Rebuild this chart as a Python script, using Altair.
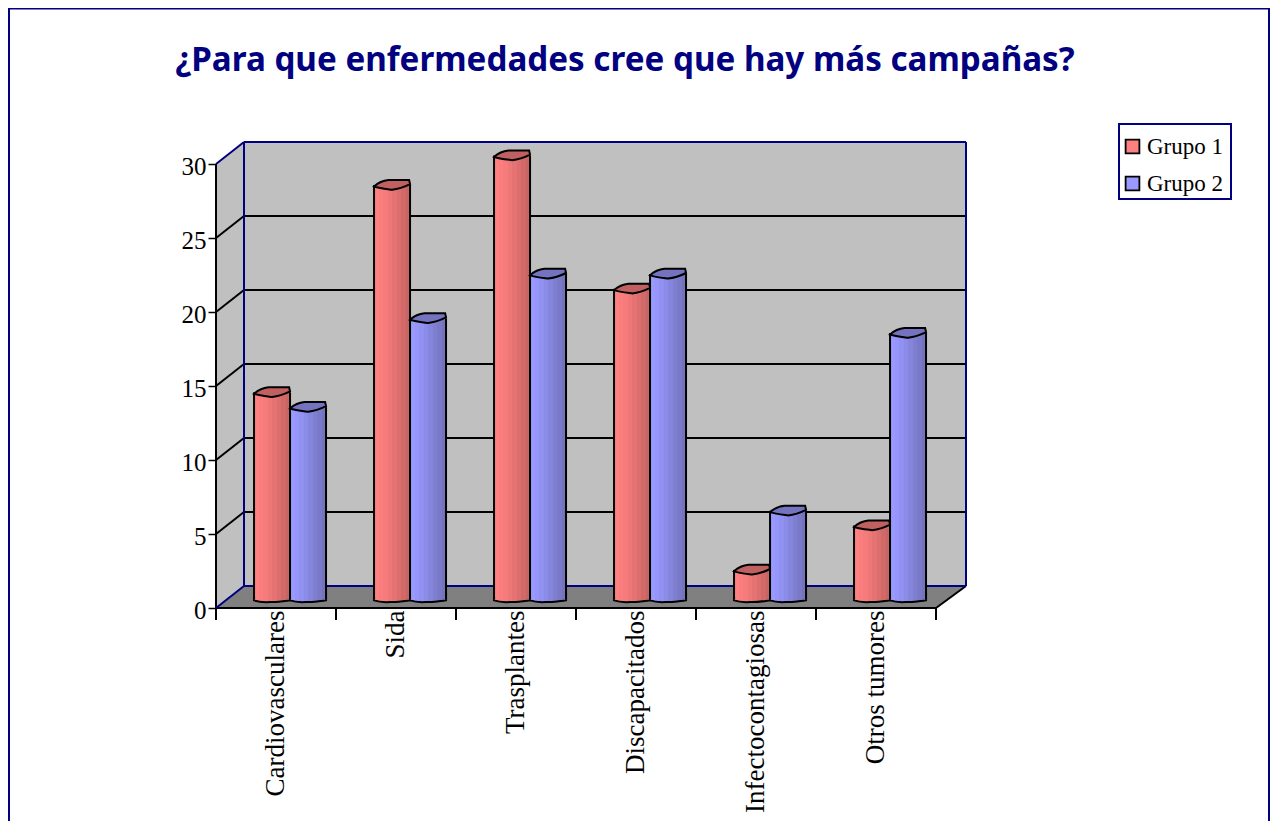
import altair as alt
import pandas as pd

categories = ["Cardiovasculares", "Sida", "Trasplantes", "Discapacitados", "Infectocontagiosas", "Otros tumores"]
grupo1 = [14, 28, 30, 21, 2, 5]
grupo2 = [13, 19, 22, 22, 6, 18]
y_ticks = [0, 5, 10, 15, 20, 25, 30]

NAVY = "#000080"
DX, DY = 28 / 120, 22 / 14.8      # depth of the box in data units
XMAX, YMAX = 6.25, 466 / 14.8
BASE = 8.5 / 14.8                 # bar foot sits part-way into the floor
SERIF = "Liberation Serif"

label_js = "[" + ",".join(f"'{c}'" for c in categories) + "][floor(datum.value)]"
AX = alt.Axis(values=[i + 0.5 for i in range(6)], labelExpr=label_js, tickSize=0, domain=False, grid=False,
              labelAngle=270, labelAlign="right", labelBaseline="middle", labelPadding=2, labelOffset=-1,
              labelFont=SERIF, labelFontSize=27, labelColor="black", labelLimit=400,
              labelOverlap=False, labelFlush=False, labelBound=False)
AY = alt.Axis(values=y_ticks, tickSize=8, tickColor="black", tickWidth=1.5, domain=False, grid=False,
              labelFont=SERIF, labelFontSize=25, labelColor="black", labelPadding=2, labelOffset=2, labelOverlap=False,
              labelFlush=False, labelBound=False)
X = lambda f="x": alt.X(f, type="quantitative", scale=alt.Scale(domain=[0, XMAX], nice=False, zero=False), axis=AX, title=None)
Y = lambda f="y": alt.Y(f, type="quantitative", scale=alt.Scale(domain=[0, YMAX], nice=False, zero=False), axis=AY, title=None)

# outer frame, title and legend box
one = alt.Chart(pd.DataFrame({"a": [0]}))
frame = one.mark_rect(filled=False, stroke=NAVY, strokeWidth=2).encode(
    x=alt.value(-207), x2=alt.value(1053), y=alt.value(-133.5), y2=alt.value(700))
title = one.mark_text(text="¿Para que enfermedades cree que hay más campañas?", font="Noto Sans", fontWeight="bold",
                      fontSize=33.2, color=NAVY, align="center", baseline="alphabetic").encode(
    x=alt.value(409), y=alt.value(-71))
legend_box = one.mark_rect(fill="white", stroke=NAVY, strokeWidth=2).encode(
    x=alt.value(903), x2=alt.value(1015), y=alt.value(-18), y2=alt.value(57))

# walls and floor
back = alt.Chart(pd.DataFrame({"x": [DX], "x2": [XMAX], "y": [DY], "y2": [30 + DY]})).mark_rect(fill="#C0C0C0").encode(
    x=X(), x2="x2", y=Y(), y2="y2")
side = alt.Chart(pd.DataFrame({"x": [0, DX], "y": [0, DY], "y2": [30, 30 + DY]})).mark_area(fill="#C0C0C0", opacity=1).encode(
    x=X(), y=Y(), y2="y2")
floor = alt.Chart(pd.DataFrame({"x": [0, DX, 6, XMAX], "y": [0, 0, 0, DY], "y2": [0, DY, DY, DY]})).mark_area(fill="#808080", opacity=1).encode(
    x=X(), y=Y(), y2="y2")

black = [(DX, XMAX, v + DY, v + DY) for v in y_ticks[1:-1]]
black += [(0, DX, v, v + DY) for v in y_ticks[1:-1]]
black += [(0, 0, 0, 30), (0, 6, 0, 0), (6, XMAX, 0, DY)]
black += [(i, i, 0, -12 / 14.8) for i in range(7)]
navy = [(DX, DX, DY, 30 + DY), (DX, XMAX, 30 + DY, 30 + DY), (XMAX, XMAX, DY, 30 + DY), (DX, XMAX, DY, DY),
        (0, DX, 0, DY), (0, DX, 30, 30 + DY)]
def rules(segs, color, w):
    df = pd.DataFrame(segs, columns=["x", "x2", "y", "y2"])
    return alt.Chart(df).mark_rule(color=color, strokeWidth=w).encode(x=X(), x2="x2", y=Y(), y2="y2")
lines = [rules(black, "black", 2), rules(navy, NAVY, 2)]

# cylinders
CAP = "M-1,0.08 C-0.8,-0.1 -0.5,-0.25 -0.2,-0.28 L0.95,-0.28 L1,-0.05 C0.7,0.1 0.4,0.22 0,0.26 C-0.3,0.22 -0.7,0.18 -1,0.08 Z"
FOOT = "M-1,-0.3 L-1,0.05 C-0.8,0.12 -0.4,0.16 -0.1,0.14 C0.3,0.16 0.6,0.1 1,0.04 L1,-0.3 Z"
def grad(stops):
    n = len(stops)
    s = []
    for i, c in enumerate(stops):
        s.append(alt.GradientStop(offset=i / n, color=c))
        s.append(alt.GradientStop(offset=(i + 1) / n, color=c))
    return alt.LinearGradient(gradient="linear", x1=0, x2=1, y1=0, y2=0, stops=s)

def series(values, offset, stops, top):
    g = grad(stops)
    df = pd.DataFrame({"c": [i + offset for i in range(6)],
                       "l": [i + offset - 0.15 for i in range(6)],
                       "r": [i + offset + 0.15 for i in range(6)],
                       "b": [BASE] * 6,
                       "t": [v + BASE for v in values]})
    base = alt.Chart(df)
    return [
        base.mark_point(shape=FOOT, size=1296, fill=g, filled=True, stroke="black", strokeWidth=2, opacity=1).encode(x=X("c"), y=Y("b")),
        base.mark_rect(fill=g).encode(x=X("l"), x2="r", y=Y("b"), y2="t"),
        base.mark_rule(color="black", strokeWidth=2).encode(x=X("l"), y=Y("b"), y2="t"),
        base.mark_rule(color="black", strokeWidth=2).encode(x=X("r"), y=Y("b"), y2="t"),
        base.mark_point(shape=CAP, size=1296, fill=top, filled=True, stroke="black", strokeWidth=2, opacity=1).encode(x=X("c"), y=Y("t")),
    ]

red = ["#FF8080", "#FB7E7E", "#F67B7B", "#EE7777", "#E67373", "#DC6E6E", "#D26969", "#C86464"]
blue = ["#9999FF", "#9696FA", "#9191F2", "#8B8BE8", "#8585DD", "#7F7FD2", "#7979C8", "#7373BE"]
bars = series(grupo1, 0.467, red, "#C06060") + series(grupo2, 0.767, blue, "#7373BF")

# legend
legend = alt.Chart(pd.DataFrame({"serie": ["Grupo 1", "Grupo 2"]})).mark_square(size=0, stroke="black", opacity=1).encode(
    x=alt.value(0), y=alt.value(0),
    color=alt.Color("serie:N", scale=alt.Scale(domain=["Grupo 1", "Grupo 2"], range=["#FF8080", "#9999FF"]),
                    legend=alt.Legend(title=None, orient="none", legendX=905, legendY=-7,
                                      padding=0, rowPadding=13, symbolType="square", symbolSize=190,
                                      symbolStrokeColor="black", symbolStrokeWidth=1.8, symbolOpacity=1,
                                      labelFont=SERIF, labelFontSize=23, labelColor="black", labelOffset=3)),
)

chart = alt.layer(frame, side, back, floor, *lines, *bars, legend_box, legend, title).properties(
    width=750, height=466,
    autosize=alt.AutoSizeParams(type="none"),
    padding={"left": 208, "top": 134, "right": 304, "bottom": 213},
    background="white",
).configure_view(stroke=None)

chart.save("out.html", embed_options={"renderer": "svg", "actions": False})
